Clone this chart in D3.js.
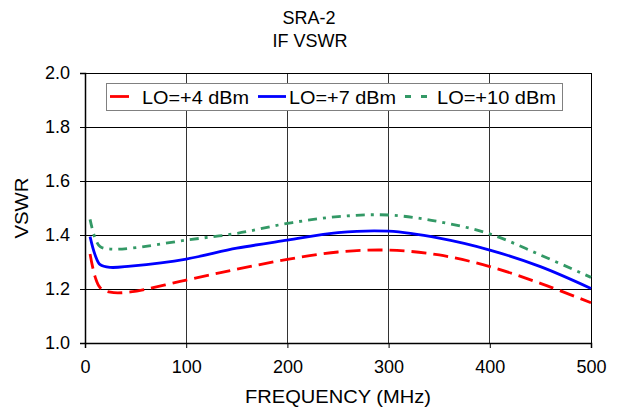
<!DOCTYPE html>
<html>
<head>
<meta charset="utf-8">
<script src="https://cdn.jsdelivr.net/npm/d3@7/dist/d3.min.js"></script>
<style>
  body { margin: 0; background: #fff; }
  svg { display: block; font-family: "Liberation Sans", Arial, sans-serif; }
</style>
</head>
<body>
<div id="app"></div>
<script>
`use strict`;

const Freq = [5, 10, 15, 25, 45, 100, 150, 200, 250, 300, 350, 400, 450, 500];

const LO4 = [1.33, 1.245, 1.205, 1.188, 1.189, 1.233, 1.273, 1.31, 1.337, 1.344, 1.326, 1.283, 1.221, 1.149];
const LO7 = [1.394, 1.326, 1.29, 1.28, 1.285, 1.311, 1.351, 1.381, 1.409, 1.414, 1.388, 1.344, 1.283, 1.202];
const LO10 = [1.458, 1.388, 1.357, 1.348, 1.351, 1.381, 1.406, 1.443, 1.468, 1.474, 1.449, 1.404, 1.326, 1.243];

const SeriesNames = [`LO=+4 dBm`, `LO=+7 dBm`, `LO=+10 dBm`];
const XTicks = [0, 100, 200, 300, 400, 500];
const YTicks = [1.0, 1.2, 1.4, 1.6, 1.8, 2.0];

const W = 622, H = 409;
const M = {left: 85, top: 73, right: 31, bottom: 66};
const PW = W - M.left - M.right, PH = H - M.top - M.bottom;

const Series = [
  {name: SeriesNames[0], vals: LO4, color: `#ff0000`, dash: `15,7`},
  {name: SeriesNames[1], vals: LO7, color: `#0000ff`, dash: null},
  {name: SeriesNames[2], vals: LO10, color: `#339966`, dash: `9,6,3,6`}
];

let SVG = d3.select(`#app`).append(`svg`).attr(`width`, W).attr(`height`, H);

let x = d3.scaleLinear().domain([0, 500]).range([0, PW]);
let y = d3.scaleLinear().domain([1, 2]).range([PH, 0]);

// text is drawn a little wider than the font gives, so stretch to measured widths
let label = (sel, str, len) => {
  let t = sel.append(`text`).attr(`font-size`, `18px`).text(str);
  if (len) t.attr(`textLength`, len).attr(`lengthAdjust`, `spacingAndGlyphs`);
  return t;
};

// titles
label(SVG, `SRA-2`).attr(`x`, 309).attr(`y`, 24).attr(`text-anchor`, `middle`);
label(SVG, `IF VSWR`).attr(`x`, 310).attr(`y`, 47).attr(`text-anchor`, `middle`);

let G = SVG.append(`g`).attr(`transform`, `translate(${M.left},${M.top})`);

// grid
G.selectAll(`.hg`).data(YTicks).enter().append(`line`)
  .attr(`x1`, 0).attr(`x2`, PW).attr(`y1`, d => y(d)).attr(`y2`, d => y(d))
  .attr(`stroke`, `#000`).attr(`stroke-width`, 1).attr(`shape-rendering`, `crispEdges`);

G.selectAll(`.vg`).data(XTicks).enter().append(`line`)
  .attr(`x1`, d => x(d)).attr(`x2`, d => x(d)).attr(`y1`, 0).attr(`y2`, PH)
  .attr(`stroke`, `#333`).attr(`stroke-width`, 1).attr(`shape-rendering`, `crispEdges`);

// axes
let xAxis = G.append(`g`).attr(`transform`, `translate(0,${PH})`)
  .call(d3.axisBottom(x).tickValues(XTicks).tickSize(5).tickPadding(12).tickFormat(d3.format(`d`)));
let yAxis = G.append(`g`)
  .call(d3.axisLeft(y).tickValues(YTicks).tickSize(5).tickPadding(10).tickFormat(d3.format(`.1f`)));

[xAxis, yAxis].forEach(A => {
  A.select(`.domain`).attr(`stroke`, `#000`).attr(`stroke-width`, 1.5);
  A.selectAll(`line`).attr(`stroke`, `#000`);
  A.selectAll(`text`).attr(`font-size`, `18px`).attr(`fill`, `#000`).style(`font-family`, `"Liberation Sans", Arial, sans-serif`);
});

G.append(`rect`).attr(`x`, 0).attr(`y`, 0).attr(`width`, PW).attr(`height`, PH)
  .attr(`fill`, `none`).attr(`stroke`, `#000`).attr(`stroke-width`, 1).attr(`shape-rendering`, `crispEdges`);

// lines
let line = d3.line().x(d => x(d[0])).y(d => y(d[1])).curve(d3.curveCatmullRom.alpha(0.5));

G.selectAll(`.series`).data(Series).enter().append(`path`)
  .attr(`d`, S => line(Freq.map((f, i) => [f, S.vals[i]])))
  .attr(`fill`, `none`).attr(`stroke`, S => S.color).attr(`stroke-width`, 2.8)
  .attr(`stroke-dasharray`, S => S.dash);

// legend
let L = SVG.append(`g`).attr(`transform`, `translate(106,83)`);
L.append(`rect`).attr(`width`, 456).attr(`height`, 27).attr(`fill`, `#fff`).attr(`stroke`, `#808080`).attr(`stroke-width`, 1).attr(`shape-rendering`, `crispEdges`);

// [line x1, line x2, text x, text width]
const LegX = [[4, 23, 36, 107], [152, 180, 183, 107], [299, 321, 331, 119]];

Series.forEach((S, i) => {
  L.append(`line`).attr(`x1`, LegX[i][0]).attr(`x2`, LegX[i][1]).attr(`y1`, 13.5).attr(`y2`, 13.5)
    .attr(`stroke`, S.color).attr(`stroke-width`, 2.8).attr(`stroke-dasharray`, i === 2 ? `6,10` : null);
  label(L, S.name, LegX[i][3]).attr(`x`, LegX[i][2]).attr(`y`, 20.5);
});

// axis titles
label(SVG, `FREQUENCY (MHz)`, 186).attr(`x`, M.left + PW / 2).attr(`y`, 403).attr(`text-anchor`, `middle`);
label(SVG, `VSWR`, 61).attr(`transform`, `translate(28,${M.top + PH / 2}) rotate(-90)`).attr(`text-anchor`, `middle`);
</script>
</body>
</html>
